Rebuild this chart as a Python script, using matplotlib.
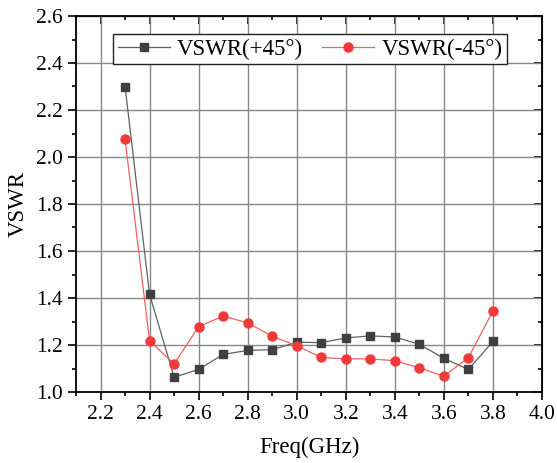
import matplotlib.pyplot as plt
from matplotlib.ticker import MultipleLocator

plt.rcParams['font.family'] = ['Liberation Serif', 'DejaVu Serif']

freq = [2.3, 2.4, 2.5, 2.6, 2.7, 2.8, 2.9, 3.0, 3.1, 3.2, 3.3, 3.4, 3.5, 3.6, 3.7, 3.8]
vswr_p45 = [2.30, 1.415, 1.063, 1.096, 1.160, 1.177, 1.180, 1.212, 1.210, 1.230, 1.239, 1.234,
            1.203, 1.143, 1.096, 1.215]
vswr_m45 = [2.075, 1.218, 1.119, 1.278, 1.323, 1.294, 1.237, 1.197, 1.147, 1.141, 1.141, 1.133,
            1.103, 1.067, 1.146, 1.345]

fig = plt.figure(figsize=(5.57, 4.63), dpi=100)
ax = fig.add_axes([76 / 557, 1 - 392 / 463, (542 - 76) / 557, (392 - 16) / 463])

ax.plot(freq, vswr_p45, color='#606060', lw=0.9, marker='s', ms=5.8,
        mfc='#404040', mec='#404040', label='VSWR(+45°)', zorder=3)
ax.plot(freq, vswr_m45, color='#f06060', lw=0.9, marker='o', ms=6.5,
        mfc='#f03a3a', mec='#f03a3a', label='VSWR(-45°)', zorder=3)

ax.set_xlim(2.1, 4.0)
ax.set_ylim(1.0, 2.6)
ax.xaxis.set_major_locator(MultipleLocator(0.2))
ax.xaxis.set_minor_locator(MultipleLocator(0.1))
ax.yaxis.set_major_locator(MultipleLocator(0.2))
ax.yaxis.set_minor_locator(MultipleLocator(0.1))
ax.xaxis.set_major_formatter(lambda v, p: '%.1f' % v)
ax.yaxis.set_major_formatter(lambda v, p: '%.1f' % v)
ax.grid(True, which='major', color='#888888', lw=1.0)

ax.tick_params(which='both', direction='out', labelsize=15.5, width=1.2)
ax.tick_params(which='major', length=6)
ax.tick_params(which='minor', length=3)
for s in ax.spines.values():
    s.set_linewidth(1.3)

# mirrored ticks on top/right point inwards, Origin style
top = ax.secondary_xaxis('top')
top.xaxis.set_major_locator(MultipleLocator(0.2))
top.xaxis.set_minor_locator(MultipleLocator(0.1))
top.tick_params(which='both', direction='in', labeltop=False, width=1.2)
top.tick_params(which='major', length=6)
top.tick_params(which='minor', length=3)
right = ax.secondary_yaxis('right')
right.yaxis.set_major_locator(MultipleLocator(0.2))
right.yaxis.set_minor_locator(MultipleLocator(0.1))
right.tick_params(which='both', direction='in', labelright=False, width=1.2)
right.tick_params(which='major', length=6)
right.tick_params(which='minor', length=3)

ax.set_xlabel('Freq(GHz)', fontsize=16.5, labelpad=9)
ax.set_ylabel('VSWR', fontsize=16.5, labelpad=5)

leg = ax.legend(loc='upper center', ncol=2, fontsize=16.5, frameon=True, fancybox=False,
                edgecolor='#222222', framealpha=1, bbox_to_anchor=(0.502, 0.952),
                borderaxespad=0, handlelength=2.3, columnspacing=0.8, borderpad=0.2,
                handletextpad=0.3)
leg.get_frame().set_linewidth(1.0)

fig.savefig('out.png', dpi=100)
